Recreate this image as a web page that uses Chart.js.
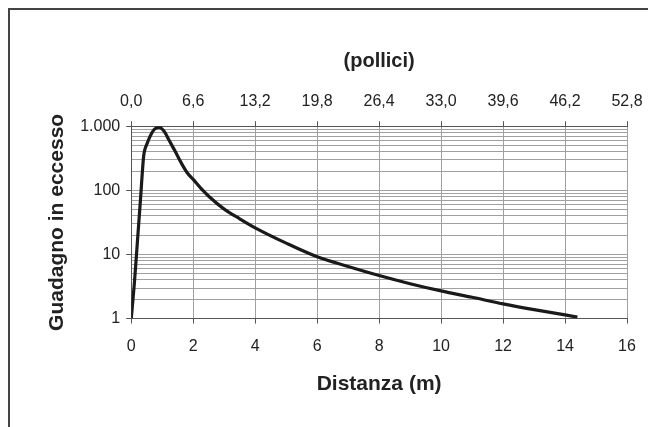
<!DOCTYPE html>
<html>
<head>
<meta charset="utf-8">
<script src="https://cdn.jsdelivr.net/npm/chart.js@4.4.1/dist/chart.umd.min.js"></script>
<style>
  html, body { margin: 0; padding: 0; background: #fff; overflow: hidden; }
  #wrap { position: relative; width: 648px; height: 427px; overflow: hidden; }
  #frame { position: absolute; left: 8px; top: 8px; width: 700px; height: 500px;
           border-top: 2px solid #444; border-left: 2px solid #444; }
  canvas { position: absolute; left: 0; top: 0; }
</style>
</head>
<body>
<div id="wrap">
  <div id="frame"></div>
  <canvas id="chart" width="648" height="427"></canvas>
</div>
<script>
// Distanza (m) e guadagno in eccesso
const distanze = [0, 0.1, 0.2, 0.3, 0.4, 0.45, 0.5, 0.6, 0.7, 0.8, 0.9, 1.0, 1.1, 1.2, 1.4, 1.6, 1.8, 2.0, 2.25, 2.5, 3.0, 3.5, 4.0, 5.0, 6.0, 7.0, 8.0, 9.0, 10.0, 11.0, 12.0, 13.0, 14.0, 14.4];
const guadagno = [1, 3.5, 16, 74, 340, 450, 520, 680, 840, 930, 960, 900, 780, 630, 420, 275, 190, 148, 107, 81, 51, 36, 26, 15, 9.2, 6.5, 4.7, 3.5, 2.7, 2.15, 1.7, 1.38, 1.14, 1.06];

// etichette degli assi
const xTicks = [0, 2, 4, 6, 8, 10, 12, 14, 16];
const polliciTicks = [0, 6.6, 13.2, 19.8, 26.4, 33.0, 39.6, 46.2, 52.8];
const polliciLabels = ["0,0", "6,6", "13,2", "19,8", "26,4", "33,0", "39,6", "46,2", "52,8"];
const yMajor = [1, 10, 100, 1000];
const yLabels = ["1", "10", "100", "1.000"];

// linee della griglia logaritmica (1..9 per decade)
const yGrid = [];
for (let d = 1; d < 1000; d *= 10) {
    for (let k = 1; k < 10; k++) yGrid.push(k * d);
}
yGrid.push(1000);

const font = "'Liberation Sans', Arial, Helvetica, sans-serif";
const gridColor = "#a0a0a0";
const axisColor = "#555";

// l'ultima etichetta può sporgere a destra dell'area del grafico
const fitRight = s => { s.paddingRight = 21; };

new Chart(document.getElementById("chart"), {
    type: "line",
    data: {
        datasets: [{
            data: distanze.map((x, i) => ({ x: x, y: guadagno[i] })),
            borderColor: "#1a1a1a",
            borderWidth: 3.2,
            pointRadius: 0,
            fill: false,
            cubicInterpolationMode: "monotone"
        }]
    },
    options: {
        responsive: false,
        animation: false,
        layout: { padding: { left: 41, right: 0, top: 45, bottom: 26 } },
        plugins: { legend: { display: false }, tooltip: { enabled: false } },
        scales: {
            x: {
                type: "linear",
                position: "bottom",
                min: 0, max: 16,
                afterBuildTicks: s => { s.ticks = xTicks.map(v => ({ value: v })); },
                afterFit: fitRight,
                ticks: { color: "#222", font: { family: font, size: 16 }, padding: 13, maxRotation: 0 },
                grid: { color: gridColor, lineWidth: 1, tickLength: 5, tickColor: axisColor },
                border: { color: axisColor, width: 1 },
                title: {
                    display: true, text: "Distanza (m)", color: "#222",
                    font: { family: font, size: 21, weight: "bold" }, padding: { top: 3 }
                }
            },
            x2: {
                type: "linear",
                position: "top",
                min: 0, max: 52.8,
                afterBuildTicks: s => { s.ticks = polliciTicks.map(v => ({ value: v })); },
                afterFit: fitRight,
                ticks: {
                    color: "#222", font: { family: font, size: 16 }, padding: 10, maxRotation: 0,
                    callback: (v, i) => polliciLabels[i]
                },
                grid: { drawOnChartArea: false, tickLength: 5, tickColor: axisColor },
                border: { color: axisColor, width: 1 },
                title: {
                    display: true, text: "(pollici)", color: "#222",
                    font: { family: font, size: 20, weight: "bold" }, padding: { bottom: 9 }
                }
            },
            y: {
                type: "logarithmic",
                min: 1, max: 1000,
                afterBuildTicks: s => { s.ticks = yGrid.map(v => ({ value: v, major: yMajor.includes(v) })); },
                ticks: {
                    autoSkip: false, color: "#222", font: { family: font, size: 16 }, padding: 6,
                    callback: v => { const i = yMajor.indexOf(v); return i >= 0 ? yLabels[i] : ""; }
                },
                grid: {
                    color: gridColor, lineWidth: 1, tickLength: 5,
                    tickColor: c => (c.tick && yMajor.includes(c.tick.value)) ? axisColor : "rgba(0,0,0,0)"
                },
                border: { color: axisColor, width: 1 },
                title: {
                    display: true, text: "Guadagno in eccesso", color: "#222",
                    font: { family: font, size: 21, weight: "bold" }, padding: { bottom: 4 }
                }
            }
        }
    }
});
</script>
</body>
</html>
